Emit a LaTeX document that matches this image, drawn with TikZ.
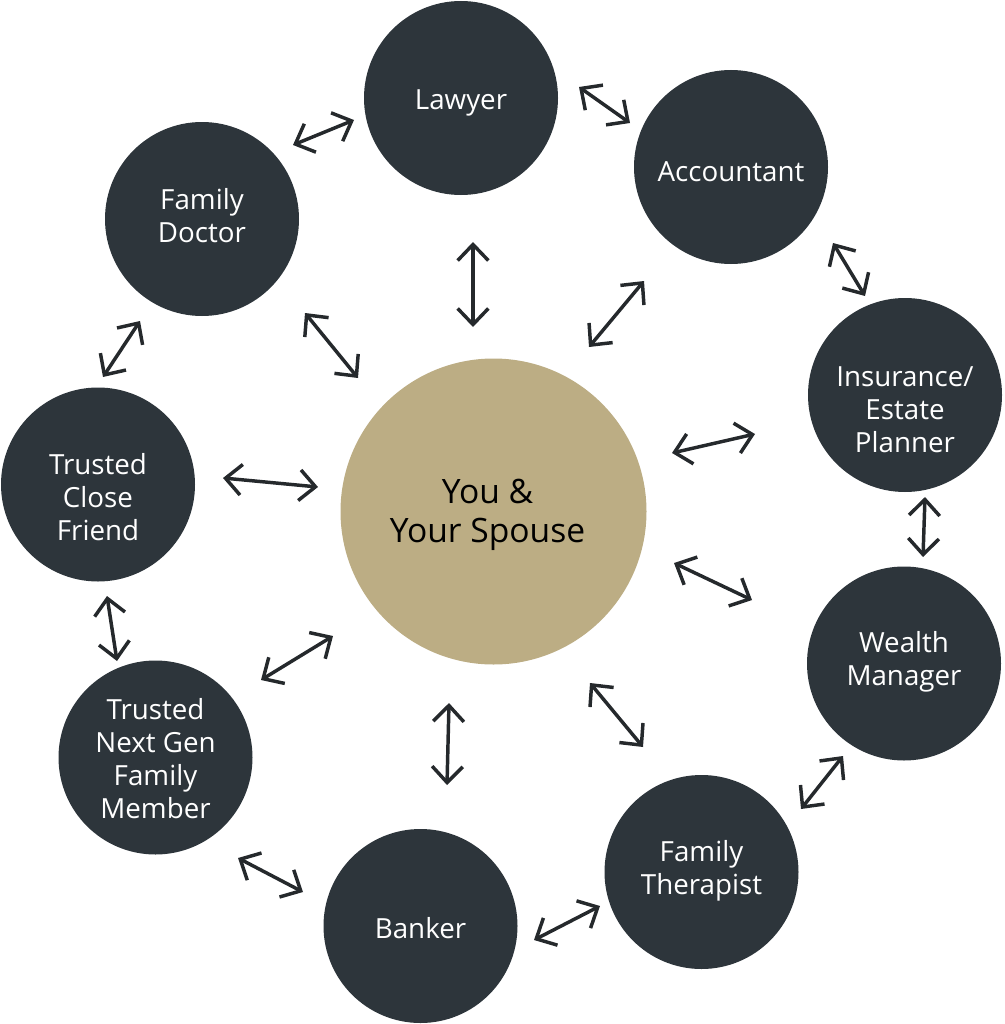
\documentclass[tikz,border=0pt]{standalone}
\usepackage{fontspec}
\setmainfont{Open Sans}
\usetikzlibrary{arrows.meta}
\definecolor{dark}{HTML}{2D353B}
\definecolor{sand}{HTML}{BCAD84}
\definecolor{arrowc}{HTML}{25292C}
\begin{document}
\begin{tikzpicture}[x=0.75pt,y=-0.75pt,
  outer/.style={circle,fill=dark,minimum size=145.5pt,inner sep=0pt},
  core/.style={circle,fill=sand,minimum size=229.5pt,inner sep=0pt},
  lbl/.style={text=white,align=center,font=\fontsize{20.8}{24.75}\selectfont},
  corelbl/.style={text=black,align=center,font=\fontsize{25.2}{29.5}\selectfont},
  link/.style={draw=arrowc,line width=2.6pt,
    {Straight Barb[length=12pt,width=23pt]}-{Straight Barb[length=12pt,width=23pt]}}
]
\useasboundingbox (0,0) rectangle (1004,1024);
% nodes
\node[core,label={[corelbl,xshift=-4.5pt,yshift=-2.75pt]center:You \&\\Your Spouse}] (you) at (493.5,511.5) {};
\node[outer,label={[lbl,yshift=-3.75pt]center:Lawyer}] (law) at (461,98) {};
\node[outer,label={[lbl,yshift=-3.25pt]center:Accountant}] (acc) at (731,167) {};
\node[outer,label={[lbl,yshift=-11pt]center:Insurance/\\Estate\\Planner}] (ins) at (905,395) {};
\node[outer,label={[lbl,yshift=1.5pt]center:Wealth\\Manager}] (wea) at (904,663.5) {};
\node[outer,label={[lbl,yshift=0.75pt]center:Family\\Therapist}] (the) at (701.5,872) {};
\node[outer,label={[lbl,yshift=-1.5pt]center:Banker}] (ban) at (420.5,926) {};
\node[outer,label={[lbl,yshift=-0.75pt]center:Trusted\\Next Gen\\Family\\Member}] (nex) at (155.5,757.5) {};
\node[outer,label={[lbl,yshift=-9.5pt]center:Trusted\\Close\\Friend}] (fri) at (98,484.5) {};
\node[outer,label={[lbl,yshift=2.25pt]center:Family\\Doctor}] (doc) at (202,219) {};
% arrow end points
\coordinate (a1s) at (293,145); \coordinate (a1e) at (354,120);
\coordinate (a2s) at (579,87);  \coordinate (a2e) at (630,123);
\coordinate (a3s) at (833,243); \coordinate (a3e) at (865,296);
\coordinate (a4s) at (925,497); \coordinate (a4e) at (923,557);
\coordinate (a5s) at (843,756); \coordinate (a5e) at (801,809);
\coordinate (a6s) at (600,906); \coordinate (a6e) at (534,940);
\coordinate (a7s) at (303,892); \coordinate (a7e) at (238,858);
\coordinate (a8s) at (117,661); \coordinate (a8e) at (107,596);
\coordinate (a9s) at (103,377); \coordinate (a9e) at (140,321);
\coordinate (s1s) at (473,242); \coordinate (s1e) at (473,327);
\coordinate (s2s) at (644,281); \coordinate (s2e) at (589,347);
\coordinate (s3s) at (755,434); \coordinate (s3e) at (672,453);
\coordinate (s4s) at (752,600); \coordinate (s4e) at (674,563);
\coordinate (s5s) at (643,747); \coordinate (s5e) at (590,683);
\coordinate (s6s) at (447,785); \coordinate (s6e) at (449,703);
\coordinate (s7s) at (261,680); \coordinate (s7e) at (333,636);
\coordinate (s8s) at (223,478); \coordinate (s8e) at (318,487);
\coordinate (s9s) at (305,313); \coordinate (s9e) at (358,378);
% ring connectors
\foreach \i in {1,...,9} {\draw[link] (a\i s) -- (a\i e);}
% spokes
\foreach \i in {1,...,9} {\draw[link] (s\i s) -- (s\i e);}
\end{tikzpicture}
\end{document}
